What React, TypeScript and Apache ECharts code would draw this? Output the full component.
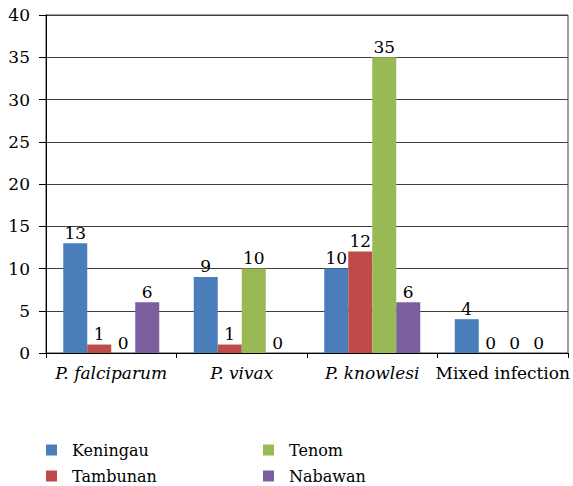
import React, { useEffect, useRef } from "react";
import * as echarts from "echarts";

const categories = ["P. falciparum", "P. vivax", "P. knowlesi", "Mixed infection"];
const italicCategories = [true, true, true, false];
const seriesNames = ["Keningau", "Tambunan", "Tenom", "Nabawan"];
const keningau = [13, 9, 10, 4];
const tambunan = [1, 1, 12, 0];
const tenom = [0, 10, 35, 0];
const nabawan = [6, 0, 6, 0];
const colors = ["#4A7EBB", "#BE4B48", "#98B954", "#7D5FA0"];
const yTicks = { min: 0, max: 40, interval: 5 };

const FONT = "DejaVu Serif";

export default function App() {
  const ref = useRef<HTMLDivElement>(null);
  useEffect(() => {
    if (!ref.current) return;
    const chart = echarts.init(ref.current, null, { renderer: "svg" });
    const values = [keningau, tambunan, tenom, nabawan];
    const legendText = {
      fontFamily: FONT,
      fontSize: 16,
      color: "#000",
      lineHeight: 20,
      padding: [0, 0, 0, 10],
    };
    const legendBase = {
      orient: "vertical",
      top: 440,
      icon: "rect",
      itemWidth: 11,
      itemHeight: 11,
      itemGap: 6,
      padding: 0,
      textStyle: legendText,
    };
    chart.setOption({
      animation: false,
      backgroundColor: "#fff",
      color: colors,
      textStyle: { fontFamily: FONT, color: "#000" },
      grid: {
        left: 46,
        right: 5,
        top: 15,
        bottom: 133,
        show: true,
        borderColor: "#3f3f3f",
        borderWidth: 1,
        backgroundColor: "transparent",
      },
      legend: [
        { ...legendBase, data: [seriesNames[0], seriesNames[1]], left: 46 },
        { ...legendBase, data: [seriesNames[2], seriesNames[3]], left: 263 },
      ],
      xAxis: {
        type: "category",
        data: categories,
        axisLine: { show: true, lineStyle: { color: "#000", width: 1 } },
        axisTick: { show: true, interval: 0, length: 5, lineStyle: { color: "#000" } },
        axisLabel: {
          interval: 0,
          margin: 11,
          fontFamily: FONT,
          fontSize: 17,
          color: "#000",
          formatter: (v: string) => {
            const idx = categories.indexOf(v);
            return italicCategories[idx] ? `{i|${v}}` : `{n|${v}}`;
          },
          rich: {
            i: { fontStyle: "italic", fontFamily: FONT, fontSize: 17, color: "#000" },
            n: { fontFamily: FONT, fontSize: 17, color: "#000" },
          },
        },
        splitLine: { show: false },
      },
      yAxis: {
        type: "value",
        min: yTicks.min,
        max: yTicks.max,
        interval: yTicks.interval,
        axisLine: { show: true, lineStyle: { color: "#000", width: 1 } },
        axisTick: { show: true, length: 7, lineStyle: { color: "#000" } },
        axisLabel: { margin: 16, fontFamily: FONT, fontSize: 17, color: "#000" },
        splitLine: { show: true, lineStyle: { color: "#3f3f3f", width: 1 } },
      },
      series: seriesNames.map((name, i) => ({
        name,
        type: "bar",
        data: values[i],
        barWidth: 24,
        barGap: "0%",
        itemStyle: { color: colors[i] },
        label: {
          show: true,
          position: "top",
          distance: 2,
          fontFamily: FONT,
          fontSize: 17,
          color: "#000",
        },
      })),
    });
    return () => chart.dispose();
  }, []);
  return (
    <div
      ref={ref}
      style={{ position: "absolute", left: 0, top: 0, width: 573, height: 486 }}
    />
  );
}
